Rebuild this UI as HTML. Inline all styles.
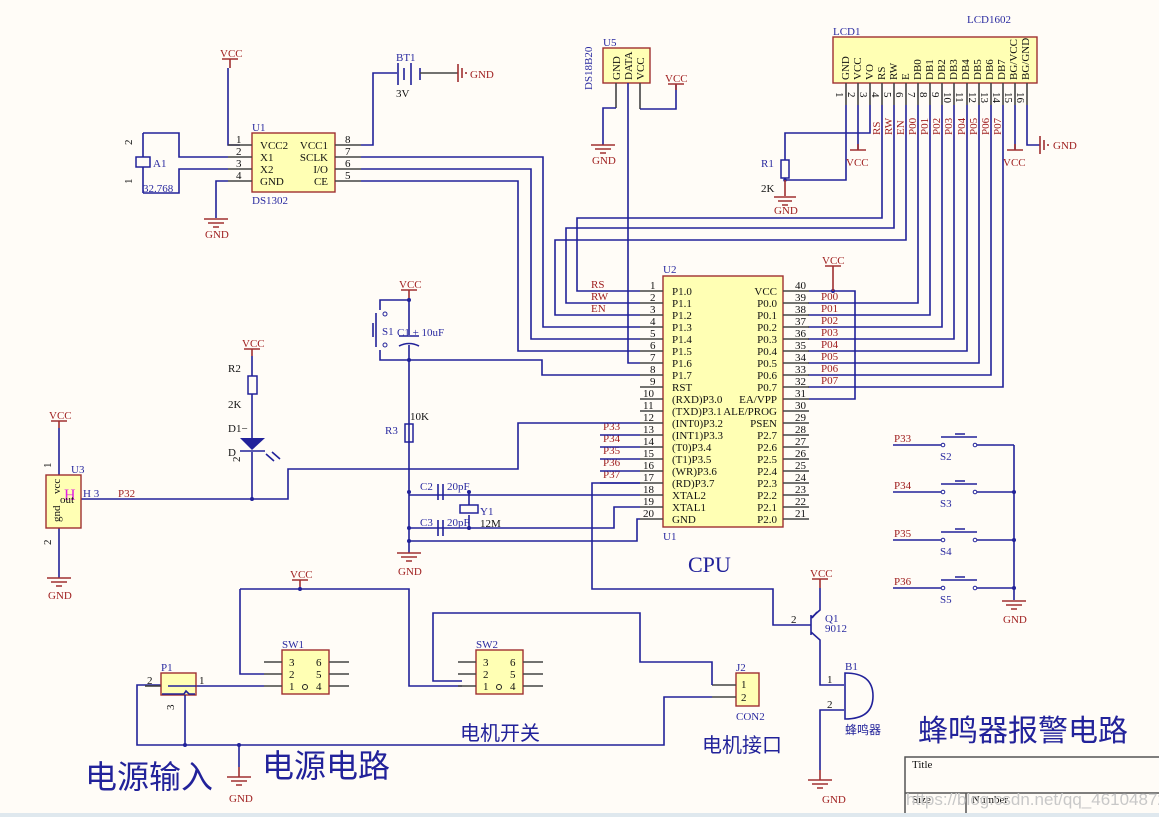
<!DOCTYPE html>
<html><head><meta charset="utf-8"><style>
html,body{margin:0;padding:0;background:#fffcf7;}
svg{display:block;font-family:"Liberation Serif","Noto Serif CJK SC",serif;}
.w{stroke:#22229a;stroke-width:1.6;fill:none}
.p{stroke:#444;stroke-width:1.6;fill:none}
.r{stroke:#a03030;stroke-width:1.6;fill:none}
.bx{fill:#ffffb4;stroke:#a03030;stroke-width:1.4}
.t{font-size:11px;fill:#111}
.b{font-size:11px;fill:#2a2aa0}
.rd{font-size:11px;fill:#a02020}
.cn{font-family:"Noto Sans CJK SC",sans-serif;fill:#22229a}
</style></head><body>
<svg width="1159" height="817" viewBox="0 0 1159 817" xmlns="http://www.w3.org/2000/svg">
<text x="220" y="57" class="rd" font-size="10">VCC</text>
<path class="r" d="M222 59h16M230 59v9"/>
<path class="w" d="M228 68v77h12"/>
<rect x="252" y="133" width="83" height="59" class="bx"/>
<text x="252" y="131" class="b">U1</text>
<text x="252" y="204" class="b">DS1302</text>
<path class="p" d="M228 145h24M228 157h24M228 169h24M228 181h24M335 145h26M335 157h26M335 169h26M335 181h26"/>
<g class="t" font-size="10"><text x="236" y="143">1</text><text x="236" y="155">2</text><text x="236" y="167">3</text><text x="236" y="179">4</text>
<text x="345" y="143">8</text><text x="345" y="155">7</text><text x="345" y="167">6</text><text x="345" y="179">5</text></g>
<g class="t"><text x="260" y="149">VCC2</text><text x="260" y="161">X1</text><text x="260" y="173">X2</text><text x="260" y="185">GND</text>
<text x="328" y="149" text-anchor="end">VCC1</text><text x="328" y="161" text-anchor="end">SCLK</text><text x="328" y="173" text-anchor="end">I/O</text><text x="328" y="185" text-anchor="end">CE</text></g>
<path class="w" d="M361 145h12V73h24M361 157h182V327h97M361 169h170V339h109M361 181h157V351h122"/>
<path class="w" d="M398 63v22M404 68v12M411 63v22M420 68v12" stroke-width="2"/>
<path class="p" d="M420 73h38"/>
<path class="r" d="M458 64v18M462 68v10M466 72v2"/>
<text x="396" y="61" class="b">BT1</text><text x="396" y="97" class="t" font-size="10">3V</text>
<text x="470" y="78" class="rd" font-size="10">GND</text>
<path class="w" d="M143 133h36v24h49M143 193h36v-24h49M143 133v24M143 167v26"/>
<rect x="136" y="157" width="14" height="10" fill="none" stroke="#22229a" stroke-width="1.5"/>
<text x="153" y="167" class="b">A1</text><text x="143" y="192" class="b" font-size="10">32.768</text>
<text x="132" y="145" class="t" font-size="9" transform="rotate(-90 132 145)">2</text>
<text x="132" y="184" class="t" font-size="9" transform="rotate(-90 132 184)">1</text>
<path class="w" d="M228 181h-12v37"/>
<path class="r" d="M204 219h24M208 223h16M213 227h6"/><text x="205" y="238" class="rd" font-size="10">GND</text>
<rect x="603" y="48" width="47" height="35" class="bx"/>
<text x="603" y="46" class="b" font-size="10">U5</text>
<text x="592" y="90" class="b" font-size="10" transform="rotate(-90 592 90)">DS18B20</text>
<g class="t" font-size="10"><text x="620" y="80" transform="rotate(-90 620 80)">GND</text><text x="632" y="80" transform="rotate(-90 632 80)">DATA</text><text x="644" y="80" transform="rotate(-90 644 80)">VCC</text></g>
<path class="p" d="M616 83v25M640 83v26"/>
<path class="w" d="M616 108h-13v37M640 109h36V85M628 83v280h12"/>
<path class="r" d="M591 145h24M595 149h16M600 153h6M668 84h16M676 84v6"/>
<text x="592" y="164" class="rd" font-size="10">GND</text><text x="665" y="82" class="rd" font-size="10">VCC</text>
<text x="967" y="23" class="b" font-size="10">LCD1602</text>
<text x="833" y="35" class="b" font-size="10">LCD1</text>
<rect x="833" y="37" width="204" height="46" class="bx"/>
<g class="t" font-size="10">
<text x="849" y="80" transform="rotate(-90 849 80)">GND</text><text x="861" y="80" transform="rotate(-90 861 80)">VCC</text><text x="873" y="80" transform="rotate(-90 873 80)">VO</text><text x="885" y="80" transform="rotate(-90 885 80)">RS</text><text x="897" y="80" transform="rotate(-90 897 80)">RW</text><text x="909" y="80" transform="rotate(-90 909 80)">E</text><text x="921" y="80" transform="rotate(-90 921 80)">DB0</text><text x="933" y="80" transform="rotate(-90 933 80)">DB1</text><text x="945" y="80" transform="rotate(-90 945 80)">DB2</text><text x="957" y="80" transform="rotate(-90 957 80)">DB3</text><text x="969" y="80" transform="rotate(-90 969 80)">DB4</text><text x="981" y="80" transform="rotate(-90 981 80)">DB5</text><text x="993" y="80" transform="rotate(-90 993 80)">DB6</text><text x="1005" y="80" transform="rotate(-90 1005 80)">DB7</text><text x="1017" y="80" transform="rotate(-90 1017 80)">BG/VCC</text><text x="1029" y="80" transform="rotate(-90 1029 80)">BG/GND</text>
</g>
<path class="p" d="M846 83v22M858 83v22M870 83v22M882 83v22M894 83v22M906 83v22M918 83v22M930 83v22M942 83v22M954 83v22M967 83v22M979 83v22M991 83v22M1003 83v22M1015 83v22M1027 83v22"/>
<g class="t" font-size="9">
<text x="836" y="92" transform="rotate(90 836 92)">1</text><text x="848" y="92" transform="rotate(90 848 92)">2</text><text x="860" y="92" transform="rotate(90 860 92)">3</text><text x="872" y="92" transform="rotate(90 872 92)">4</text><text x="884" y="92" transform="rotate(90 884 92)">5</text><text x="896" y="92" transform="rotate(90 896 92)">6</text><text x="908" y="92" transform="rotate(90 908 92)">7</text><text x="920" y="92" transform="rotate(90 920 92)">8</text><text x="932" y="92" transform="rotate(90 932 92)">9</text><text x="944" y="92" transform="rotate(90 944 92)">10</text><text x="956" y="92" transform="rotate(90 956 92)">11</text><text x="969" y="92" transform="rotate(90 969 92)">12</text><text x="981" y="92" transform="rotate(90 981 92)">13</text><text x="993" y="92" transform="rotate(90 993 92)">14</text><text x="1005" y="92" transform="rotate(90 1005 92)">15</text><text x="1017" y="92" transform="rotate(90 1017 92)">16</text>
</g>
<g class="rd" font-size="10">
<text x="880" y="135" transform="rotate(-90 880 135)">RS</text><text x="892" y="135" transform="rotate(-90 892 135)">RW</text><text x="904" y="135" transform="rotate(-90 904 135)">EN</text>
<text x="916" y="135" transform="rotate(-90 916 135)">P00</text><text x="928" y="135" transform="rotate(-90 928 135)">P01</text><text x="940" y="135" transform="rotate(-90 940 135)">P02</text><text x="952" y="135" transform="rotate(-90 952 135)">P03</text><text x="965" y="135" transform="rotate(-90 965 135)">P04</text><text x="977" y="135" transform="rotate(-90 977 135)">P05</text><text x="989" y="135" transform="rotate(-90 989 135)">P06</text><text x="1001" y="135" transform="rotate(-90 1001 135)">P07</text>
</g>
<path class="w" d="M846 105v75h-61M858 105v45M870 105v28h-85v27M1015 105v45M1027 105v40h13"/>
<path class="w" d="M882 105v113H577v73h63M894 105v123H566v75h74M906 105v135H555v75h85"/>
<path class="w" d="M918 105v198h-110M930 105v210h-122M942 105v222h-134M954 105v234h-146M967 105v246h-159M979 105v258h-171M991 105v270h-183M1003 105v282h-195"/>
<rect x="781" y="160" width="8" height="18" fill="none" stroke="#22229a" stroke-width="1.5"/>
<circle cx="785" cy="180" r="1.8" fill="#22229a"/>
<text x="761" y="167" class="b">R1</text><text x="761" y="192" class="t" font-size="10">2K</text>
<path class="r" d="M785 180v16M774 197h22M778 201h14M782 205h6M850 150h16M858 150v-6M1007 150h16M1015 150v-6M1040 136v18M1044 140v10M1048 144v2"/>
<text x="774" y="214" class="rd" font-size="10">GND</text><text x="846" y="166" class="rd" font-size="10">VCC</text><text x="1003" y="166" class="rd" font-size="10">VCC</text><text x="1053" y="149" class="rd" font-size="10">GND</text>
<rect x="663" y="276" width="120" height="251" class="bx"/>
<text x="663" y="273" class="b" font-size="10">U2</text><text x="663" y="540" class="b" font-size="10">U1</text>
<path class="p" d="M640 291h23M640 303h23M640 315h23M640 327h23M640 339h23M640 351h23M640 363h23M640 375h23M640 387h23M640 399h23M640 411h23M640 423h23M640 435h23M640 447h23M640 459h23M640 471h23M640 483h23M640 495h23M640 507h23M640 519h23"/>
<path class="p" d="M783 291h26M783 303h26M783 315h26M783 327h26M783 339h26M783 351h26M783 363h26M783 375h26M783 387h26M783 399h26M783 411h26M783 423h26M783 435h26M783 447h26M783 459h26M783 471h26M783 483h26M783 495h26M783 507h26M783 519h26"/>
<g class="t" font-size="9">
<text x="650" y="289">1</text><text x="650" y="301">2</text><text x="650" y="313">3</text><text x="650" y="325">4</text><text x="650" y="337">5</text><text x="650" y="349">6</text><text x="650" y="361">7</text><text x="650" y="373">8</text><text x="650" y="385">9</text><text x="643" y="397">10</text><text x="643" y="409">11</text><text x="643" y="421">12</text><text x="643" y="433">13</text><text x="643" y="445">14</text><text x="643" y="457">15</text><text x="643" y="469">16</text><text x="643" y="481">17</text><text x="643" y="493">18</text><text x="643" y="505">19</text><text x="643" y="517">20</text>
<text x="795" y="289">40</text><text x="795" y="301">39</text><text x="795" y="313">38</text><text x="795" y="325">37</text><text x="795" y="337">36</text><text x="795" y="349">35</text><text x="795" y="361">34</text><text x="795" y="373">33</text><text x="795" y="385">32</text><text x="795" y="397">31</text><text x="795" y="409">30</text><text x="795" y="421">29</text><text x="795" y="433">28</text><text x="795" y="445">27</text><text x="795" y="457">26</text><text x="795" y="469">25</text><text x="795" y="481">24</text><text x="795" y="493">23</text><text x="795" y="505">22</text><text x="795" y="517">21</text>
</g>
<g class="t" font-size="10.5">
<text x="672" y="295">P1.0</text><text x="672" y="307">P1.1</text><text x="672" y="319">P1.2</text><text x="672" y="331">P1.3</text><text x="672" y="343">P1.4</text><text x="672" y="355">P1.5</text><text x="672" y="367">P1.6</text><text x="672" y="379">P1.7</text><text x="672" y="391">RST</text><text x="672" y="403">(RXD)P3.0</text><text x="672" y="415">(TXD)P3.1</text><text x="672" y="427">(INT0)P3.2</text><text x="672" y="439">(INT1)P3.3</text><text x="672" y="451">(T0)P3.4</text><text x="672" y="463">(T1)P3.5</text><text x="672" y="475">(WR)P3.6</text><text x="672" y="487">(RD)P3.7</text><text x="672" y="499">XTAL2</text><text x="672" y="511">XTAL1</text><text x="672" y="523">GND</text>
<g text-anchor="end"><text x="777" y="295">VCC</text><text x="777" y="307">P0.0</text><text x="777" y="319">P0.1</text><text x="777" y="331">P0.2</text><text x="777" y="343">P0.3</text><text x="777" y="355">P0.4</text><text x="777" y="367">P0.5</text><text x="777" y="379">P0.6</text><text x="777" y="391">P0.7</text><text x="777" y="403">EA/VPP</text><text x="777" y="415">ALE/PROG</text><text x="777" y="427">PSEN</text><text x="777" y="439">P2.7</text><text x="777" y="451">P2.6</text><text x="777" y="463">P2.5</text><text x="777" y="475">P2.4</text><text x="777" y="487">P2.3</text><text x="777" y="499">P2.2</text><text x="777" y="511">P2.1</text><text x="777" y="523">P2.0</text></g>
</g>
<g class="rd" font-size="10"><text x="821" y="300">P00</text><text x="821" y="312">P01</text><text x="821" y="324">P02</text><text x="821" y="336">P03</text><text x="821" y="348">P04</text><text x="821" y="360">P05</text><text x="821" y="372">P06</text><text x="821" y="384">P07</text>
<text x="591" y="288">RS</text><text x="591" y="300">RW</text><text x="591" y="312">EN</text></g>
<g class="rd" font-size="12"><text x="603" y="430">P33</text><text x="603" y="442">P34</text><text x="603" y="454">P35</text><text x="603" y="466">P36</text><text x="603" y="478" font-size="11">P37</text></g>
<path class="w" d="M809 291h46v108h-46"/>
<circle cx="833" cy="291" r="2" fill="#22229a"/>
<path class="r" d="M833 291v-25M825 266h16"/><text x="822" y="264" class="rd" font-size="10">VCC</text>
<path class="w" d="M600 435h40M600 447h40M600 459h40M600 471h40M600 483h40"/>
<path class="w" d="M640 375h-98v-15H409M640 423h-122v46H288v30H80"/>
<path class="w" d="M640 483h-48v106h181v36h24"/>
<path class="w" d="M640 495H409M640 507h-26v21H409M640 519h-3v22H409"/>
<text x="688" y="572" style="font-family:'Liberation Serif',serif;font-size:22px;fill:#22229a">CPU</text>
<text x="399" y="288" class="rd" font-size="10">VCC</text>
<path class="r" d="M401 290h16M409 290v10"/>
<path class="w" d="M409 300v35M409 345v208M409 300h-29v10M380 350v10h29"/>
<circle cx="409" cy="300" r="2" fill="#22229a"/><circle cx="409" cy="360" r="2" fill="#22229a"/>
<path class="w" d="M376 313v34M373 323v14" stroke-width="2.5"/>
<circle cx="385" cy="314" r="2" fill="none" stroke="#22229a"/><circle cx="385" cy="345" r="2" fill="none" stroke="#22229a"/>
<text x="382" y="335" class="b">S1</text>
<path class="w" d="M399 336h20M399 346q10 -5 20 0"/>
<text x="397" y="336" class="b" font-size="10">C1 + 10uF</text>
<rect x="405" y="424" width="8" height="18" fill="none" stroke="#22229a" stroke-width="1.5"/>
<text x="385" y="434" class="b">R3</text><text x="410" y="420" class="t" font-size="10">10K</text>
<circle cx="409" cy="492" r="2" fill="#22229a"/><circle cx="409" cy="528" r="2" fill="#22229a"/><circle cx="409" cy="541" r="2" fill="#22229a"/>
<path class="w" d="M438 484v16M443 484v16M438 520v16M443 520v16" stroke-width="2"/>
<text x="420" y="490" class="b" font-size="10">C2</text><text x="447" y="490" class="b" font-size="10">20pF</text>
<text x="420" y="526" class="b" font-size="10">C3</text><text x="447" y="526" class="b" font-size="10">20pF</text>
<path class="w" d="M469 492v13M469 515v13"/><rect x="460" y="505" width="18" height="8" fill="none" stroke="#22229a" stroke-width="1.5"/>
<circle cx="469" cy="492" r="2" fill="#22229a"/><circle cx="469" cy="528" r="2" fill="#22229a"/>
<text x="480" y="515" class="b" font-size="10">Y1</text><text x="480" y="527" class="t" font-size="10">12M</text>
<path class="r" d="M397 553h24M401 557h16M406 561h6"/><text x="398" y="575" class="rd" font-size="10">GND</text>
<text x="242" y="347" class="rd" font-size="10">VCC</text><path class="r" d="M244 349h16M252 349v7"/>
<path class="w" d="M252 356v20M252 394v44M252 452v47"/>
<rect x="248" y="376" width="9" height="18" fill="none" stroke="#22229a" stroke-width="1.5"/>
<polygon points="240,438 265,438 252,450" fill="#22229a"/><path class="w" d="M240 451h25"/>
<path class="w" d="M266 454l8 7M272 452l8 7" stroke-width="1.2"/>
<text x="228" y="372" class="t">R2</text><text x="228" y="408" class="t">2K</text><text x="228" y="432" class="t">D1−</text><text x="228" y="456" class="t">D</text>
<text x="240" y="462" class="t" font-size="8" transform="rotate(-90 240 462)">2</text>
<circle cx="252" cy="499" r="2" fill="#22229a"/>
<text x="49" y="419" class="rd" font-size="10">VCC</text><path class="r" d="M51 421h16M59 421v7"/>
<path class="w" d="M59 428v47M59 528v50"/>
<rect x="46" y="475" width="35" height="53" class="bx"/>
<text x="71" y="473" class="b" font-size="10">U3</text>
<text x="64" y="500" font-size="16" fill="#e020e0">H</text>
<text x="60" y="494" class="t" font-size="9" transform="rotate(-90 60 494)">vcc</text>
<text x="60" y="522" class="t" font-size="9" transform="rotate(-90 60 522)">gnd</text>
<text x="60" y="503" class="t" font-size="9">out</text>
<text x="83" y="497" class="b" font-size="10">H 3</text><text x="118" y="497" class="rd" font-size="10">P32</text>
<text x="51" y="468" class="t" font-size="9" transform="rotate(-90 51 468)">1</text><text x="51" y="545" class="t" font-size="9" transform="rotate(-90 51 545)">2</text>
<path class="r" d="M47 578h24M51 582h16M56 586h6"/><text x="48" y="599" class="rd" font-size="10">GND</text>
<g>
<text x="894" y="442" class="rd" font-size="12">P33</text><text x="894" y="489" class="rd" font-size="12">P34</text><text x="894" y="537" class="rd" font-size="12">P35</text><text x="894" y="585" class="rd" font-size="12">P36</text>
<path class="w" d="M893 445h48M977 445h37M893 492h48M977 492h37M893 540h48M977 540h37M893 588h48M977 588h37M1014 445v155"/>
<path class="w" d="M941 437h36M955 434h10M941 484h36M955 481h10M941 532h36M955 529h10M941 580h36M955 577h10" stroke-width="2.5"/>
<g fill="#fff" stroke="#22229a"><circle cx="943" cy="445" r="1.8"/><circle cx="975" cy="445" r="1.8"/><circle cx="943" cy="492" r="1.8"/><circle cx="975" cy="492" r="1.8"/><circle cx="943" cy="540" r="1.8"/><circle cx="975" cy="540" r="1.8"/><circle cx="943" cy="588" r="1.8"/><circle cx="975" cy="588" r="1.8"/></g>
<g class="b" font-size="10"><text x="940" y="460">S2</text><text x="940" y="507">S3</text><text x="940" y="555">S4</text><text x="940" y="603">S5</text></g>
<g fill="#22229a"><circle cx="1014" cy="492" r="2"/><circle cx="1014" cy="540" r="2"/><circle cx="1014" cy="588" r="2"/></g>
<path class="r" d="M1002 601h24M1006 605h16M1011 609h6"/><text x="1003" y="623" class="rd" font-size="10">GND</text>
</g>
<text x="810" y="577" class="rd" font-size="10">VCC</text><path class="r" d="M812 579h16M820 579v9"/>
<path class="w" d="M820 588v22l-9 8M811 615v20M797 625h14M811 632l9 8v45h24M844 710h-24v60"/>
<path class="w" d="M812 618l5 -6" stroke-width="2"/>
<text x="825" y="622" class="b" font-size="10">Q1</text><text x="825" y="632" class="b" font-size="7">9012</text>
<text x="791" y="623" class="t" font-size="9">2</text>
<path d="M845 673q28 0 28 23q0 23 -28 23z" fill="none" stroke="#22229a" stroke-width="1.6"/>
<text x="845" y="670" class="b" font-size="10">B1</text><text x="827" y="683" class="t" font-size="9">1</text><text x="827" y="708" class="t" font-size="9">2</text>
<text x="845" y="734" class="cn" font-size="12">蜂鸣器</text>
<path class="r" d="M820 770v10M808 780h24M812 784h16M817 788h6"/><text x="822" y="803" class="rd" font-size="10">GND</text>
<text x="918" y="741" class="cn" font-size="30">蜂鸣器报警电路</text>
<rect x="736" y="673" width="23" height="33" class="bx"/>
<text x="736" y="671" class="b" font-size="10">J2</text><text x="741" y="688" class="t" font-size="10">1</text><text x="741" y="701" class="t" font-size="10">2</text>
<text x="736" y="720" class="b" font-size="10">CON2</text>
<path class="p" d="M712 685h24M712 697h24"/>
<path class="w" d="M712 685v-23h-72v-49H433v68h29M712 697h-48v48H137v-60h24"/>
<text x="702" y="752" class="cn" font-size="20">电机接口</text>
<text x="290" y="578" class="rd" font-size="10">VCC</text><path class="r" d="M292 580h16M300 580v9"/>
<circle cx="300" cy="589" r="2" fill="#22229a"/>
<path class="w" d="M240 589h169v97h53M240 589v85h24M196 686h68"/>
<rect x="282" y="650" width="47" height="44" class="bx"/><rect x="476" y="650" width="47" height="44" class="bx"/>
<text x="282" y="648" class="b" font-size="10">SW1</text><text x="476" y="648" class="b" font-size="10">SW2</text>
<path class="p" d="M264 662h18M264 674h18M264 686h18M329 662h20M329 674h20M329 686h20M458 662h18M458 674h18M458 686h18M523 662h20M523 674h20M523 686h20"/>
<g class="t" font-size="10"><text x="289" y="666">3</text><text x="289" y="678">2</text><text x="289" y="690">1</text><text x="316" y="666">6</text><text x="316" y="678">5</text><text x="316" y="690">4</text>
<text x="483" y="666">3</text><text x="483" y="678">2</text><text x="483" y="690">1</text><text x="510" y="666">6</text><text x="510" y="678">5</text><text x="510" y="690">4</text></g>
<circle cx="305" cy="687" r="2.5" fill="none" stroke="#222"/><circle cx="499" cy="687" r="2.5" fill="none" stroke="#222"/>
<rect x="161" y="673" width="35" height="22" class="bx"/>
<text x="161" y="671" class="b" font-size="10">P1</text>
<path class="w" d="M168 686h28" stroke-width="3"/><path class="w" d="M162 694h22l2 -3l3 3h6" stroke-width="1"/>
<path class="p" d="M145 686h16"/><text x="147" y="684" class="t" font-size="9">2</text><text x="199" y="684" class="t" font-size="9">1</text>
<path class="w" d="M185 695v50"/><text x="174" y="710" class="t" font-size="8" transform="rotate(-90 174 710)">3</text>
<circle cx="185" cy="745" r="2" fill="#22229a"/><circle cx="239" cy="745" r="2" fill="#22229a"/>
<path class="w" d="M239 745v22"/><path class="r" d="M239 767v10M227 777h24M231 781h16M236 785h6"/>
<text x="229" y="802" class="rd" font-size="10">GND</text>
<text x="460" y="740" class="cn" font-size="20">电机开关</text>
<text x="262" y="777" class="cn" font-size="32">电源电路</text>
<text x="85" y="788" class="cn" font-size="32">电源输入</text>
<path d="M905 817V757h260M905 793h260M966 793v24" fill="none" stroke="#555" stroke-width="1.5"/>
<text x="912" y="768" class="t" font-size="9">Title</text><text x="912" y="803" class="t" font-size="9">Size</text><text x="972" y="803" class="t" font-size="9">Number</text>
<text x="906" y="805" font-size="17" fill="#c8c8c8" font-family="Liberation Sans,sans-serif">https://blog.csdn.net/qq_46104872</text>
<rect x="0" y="813" width="1159" height="4" fill="#dfe8ee"/>
</svg>
</body></html>
